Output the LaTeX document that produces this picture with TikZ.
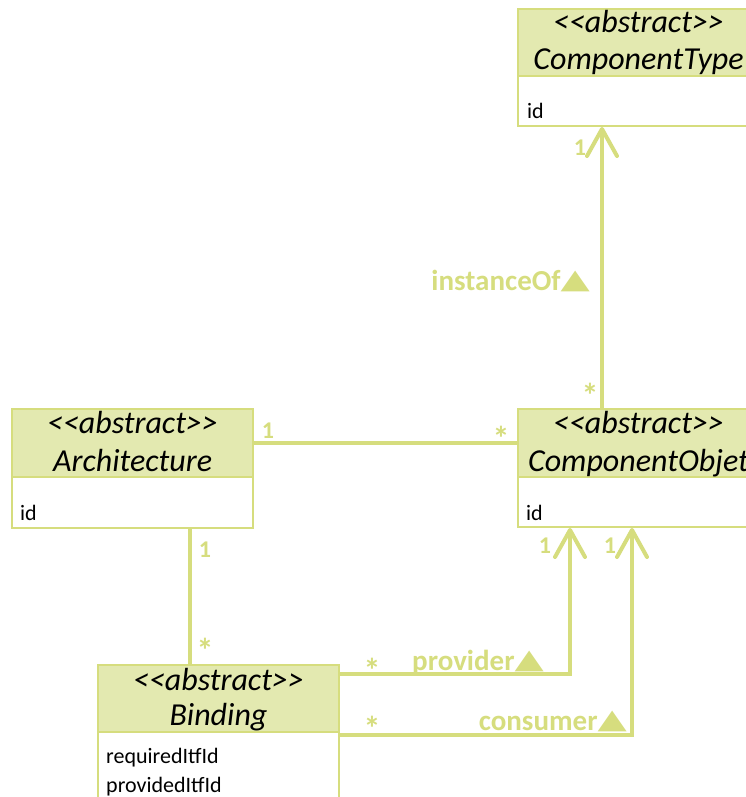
\documentclass[tikz,border=0pt]{standalone}
\usepackage{graphicx}
\usepackage{fontspec}
\setmainfont{Carlito}
\newfontfamily\symfont{DejaVu Sans}
\usetikzlibrary{arrows.meta}
\definecolor{umlline}{RGB}{214,221,126}
\definecolor{umlhead}{RGB}{227,233,176}
% stereotype text, with kerns so that << and >> stay two characters each
\newcommand\stereo{<\kern0pt<abstract>\kern0pt>}
% navigability triangle after a role name
\newcommand\navtri{\raisebox{1.5pt}{\symfont\fontsize{40}{40}\selectfont\scalebox{0.95}[0.68]{▲}}}
\begin{document}
\begin{tikzpicture}[x=1pt,y=-1pt,
  box/.style={draw=umlline, line width=2pt, rectangle, inner sep=0pt,
              anchor=north west, minimum width=241pt},
  hdr/.style={box, fill=umlhead},
  attrbox/.style={box, fill=white},
  htext/.style={font=\fontsize{32}{38}\selectfont\itshape, anchor=base, inner sep=0pt},
  atext/.style={font=\fontsize{22}{27}\selectfont, anchor=base west, inner sep=0pt},
  assoc/.style={draw=umlline, line width=4pt},
  nav/.style={assoc, -{Straight Barb[length=27pt, width=30pt, round]}},
  mult/.style={font=\fontsize{24}{29}\selectfont\bfseries, text=umlline,
               inner sep=0pt, anchor=base},
  many/.style={font=\fontsize{34}{38}\selectfont\bfseries, text=umlline,
               inner sep=0pt, anchor=base},
  role/.style={font=\fontsize{29}{34}\selectfont\bfseries, text=umlline,
               inner sep=0pt, anchor=base east},
]
\useasboundingbox (0,0) rectangle (746,797);

% ---- classes ----
\node[hdr, minimum height=67pt] (ct) at (517,8) {};
\node[attrbox, minimum height=50pt] (ctA) at (517,75) {};
\node[htext] (ctS) at ([yshift=-25pt]ct.north) {\stereo};
\node[htext] (ctN) at ([yshift=-62pt]ct.north) {ComponentType};
\node[atext] (ctId) at ([xshift=10pt,yshift=-43pt]ctA.north west) {id};

\node[hdr, minimum height=68pt] (arc) at (11,408) {};
\node[attrbox, minimum height=51pt] (arcA) at (11,476) {};
\node[htext] (arcS) at ([yshift=-25pt]arc.north) {\stereo};
\node[htext] (arcN) at ([yshift=-63pt]arc.north) {Architecture};
\node[atext] (arcId) at ([xshift=9pt,yshift=-44pt]arcA.north west) {id};

\node[hdr, minimum height=68pt] (co) at (517,408) {};
\node[attrbox, minimum height=50pt] (coA) at (517,476) {};
\node[htext] (coS) at ([yshift=-25pt]co.north) {\stereo};
\node[htext] (coN) at ([yshift=-63pt]co.north) {ComponentObjet};
\node[atext] (coId) at ([xshift=9pt,yshift=-44pt]coA.north west) {id};

\node[hdr, minimum height=67pt] (bd) at (97,664) {};
\node[attrbox, minimum height=90pt] (bdA) at (97,731) {};
\node[htext] (bdS) at ([yshift=-26pt]bd.north) {\stereo};
\node[htext] (bdN) at ([yshift=-61pt]bd.north) {Binding};
\node[atext] (bdR) at ([xshift=9pt,yshift=-32pt]bdA.north west) {requiredItfId};
\node[atext] (bdP) at ([xshift=9pt,yshift=-61pt]bdA.north west) {providedItfId};

% ---- connector guides ----
\coordinate (xInst) at (602,0);
\coordinate (xArcBd) at (190,0);
\coordinate (xProv) at (570,0);
\coordinate (xCons) at (632,0);
\coordinate (yProv) at (0,674);
\coordinate (yCons) at (0,735);

% ---- associations ----
\draw[nav] (co.north -| xInst) -- (ctA.south -| xInst);
\draw[assoc] (arc.east) -- (co.west);
\draw[assoc] (arcA.south -| xArcBd) -- (bd.north -| xArcBd);
\draw[nav] (bd.east |- yProv) -| (coA.south -| xProv);
\draw[nav] (bdA.east |- yCons) -| (coA.south -| xCons);

% ---- multiplicities and roles ----
\node[mult] (m1) at (580,155) {1};
\node[many] (m2) at (590,407) {*};
\node[role] (rInst) at (590,290) {instanceOf\navtri};

\node[mult] (m3) at (268,438) {1};
\node[many] (m4) at (501,450) {*};

\node[mult] (m5) at (205,557) {1};
\node[many] (m6) at (205,662) {*};

\node[many] (m7) at (372,682) {*};
\node[role] (rProv) at (544,670) {provider\navtri};
\node[mult] (m8) at (545,553) {1};

\node[many] (m9) at (372,740) {*};
\node[role] (rCons) at (627,730) {consumer\navtri};
\node[mult] (m10) at (610,553) {1};
\end{tikzpicture}
\end{document}
